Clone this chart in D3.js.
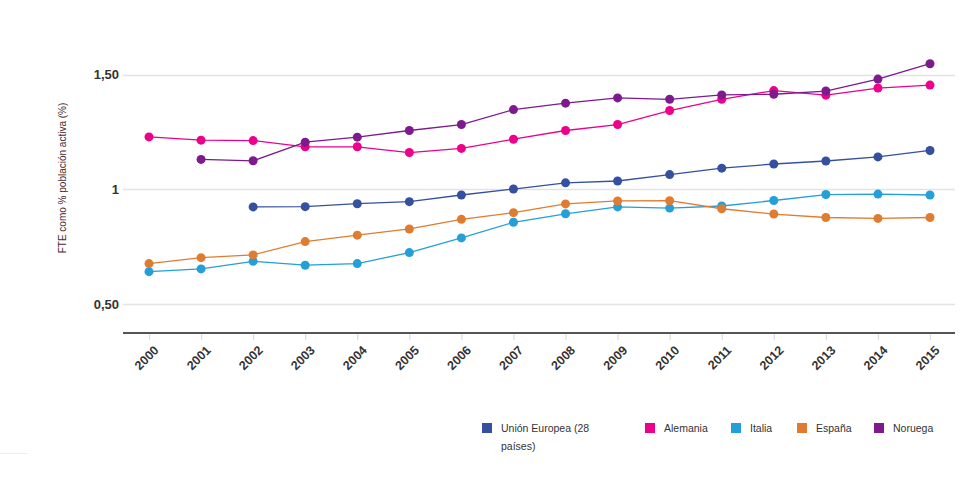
<!DOCTYPE html>
<html><head><meta charset="utf-8">
<script src="https://cdn.jsdelivr.net/npm/d3@7"></script>
<style>
body{margin:0;background:#fff;}
svg{display:block;font-family:"Liberation Sans",Arial,sans-serif;}
</style></head>
<body><svg id="c" width="979" height="489"></svg>
<script>
const years = [2000,2001,2002,2003,2004,2005,2006,2007,2008,2009,2010,2011,2012,2013,2014,2015];
const seriesNames = ["Unión Europea (28 países)","Alemania","Italia","España","Noruega"];
const seriesColors = ["#34509f","#ec008c","#249fd7","#e07c2f","#7d1a8e"];
const ue       = [null,null,0.923,0.924,0.937,0.946,0.975,1.001,1.028,1.036,1.064,1.092,1.110,1.123,1.141,1.169];
const alemania = [1.228,1.214,1.212,1.185,1.185,1.160,1.178,1.218,1.256,1.282,1.343,1.392,1.430,1.410,1.441,1.454];
const italia   = [0.641,0.653,0.686,0.669,0.676,0.724,0.788,0.856,0.893,0.923,0.918,0.927,0.951,0.977,0.979,0.975];
const espana   = [0.676,0.702,0.714,0.772,0.800,0.827,0.869,0.898,0.936,0.949,0.950,0.915,0.892,0.877,0.873,0.877];
const noruega  = [null,1.130,1.124,1.205,1.227,1.256,1.282,1.347,1.375,1.398,1.392,1.411,1.414,1.428,1.480,1.547];
const yTicks = [0.5,1,1.5];
const yTickLabels = ["0,50","1","1,50"];
const yTitle = "FTE como % población activa (%)";
const allSeries = [ue,alemania,italia,espana,noruega];

const svg = d3.select("#c");
const x = d3.scalePoint().domain(years).range([149,930]);
const y = d3.scaleLinear().domain([0.5,1.5]).range([304,74.5]);

// grid
svg.append("g").selectAll("line").data(yTicks).join("line")
  .attr("x1",123).attr("x2",955)
  .attr("y1",d=>Math.round(y(d))+0.5).attr("y2",d=>Math.round(y(d))+0.5)
  .attr("stroke","#e3e3e3").attr("stroke-width",1.3);
svg.append("g").selectAll("text").data(yTicks).join("text")
  .attr("x",119).attr("y",d=>y(d)+4.5).attr("text-anchor","end")
  .attr("font-size",13).attr("font-weight","bold").attr("fill","#333")
  .text((d,i)=>yTickLabels[i]);

// y title
svg.append("text").attr("transform","translate(66,178) rotate(-90)")
  .attr("text-anchor","middle").attr("font-size",10).attr("fill","#4a2a2a").text(yTitle);

// x axis
const xAxis = svg.append("g").attr("transform","translate(0,333)")
  .call(d3.axisBottom(x).tickSize(7).tickSizeOuter(0).tickPadding(6));
xAxis.select(".domain").remove();
xAxis.selectAll(".tick line").attr("stroke","#ddd").attr("stroke-width",1.3);
xAxis.selectAll("text").attr("font-size",12.5).attr("font-weight","bold").attr("fill","#333")
  .attr("font-family","Liberation Sans, Arial, sans-serif")
  .attr("text-anchor","end").attr("x",0).attr("y",0).attr("dy",0)
  .attr("transform","translate(10,18) rotate(-45)");
svg.append("line").attr("x1",123).attr("x2",955).attr("y1",333).attr("y2",333)
  .attr("stroke","#555").attr("stroke-width",2);

// lines and points
const line = d3.line().defined(d=>d.v!=null).x(d=>x(d.yr)).y(d=>y(d.v));
allSeries.forEach((s,i)=>{
  const pts = years.map((yr,j)=>({yr, v:s[j]}));
  svg.append("path").datum(pts).attr("d",line).attr("fill","none")
    .attr("stroke",seriesColors[i]).attr("stroke-width",1.3);
});
allSeries.forEach((s,i)=>{
  const pts = years.map((yr,j)=>({yr, v:s[j]})).filter(d=>d.v!=null);
  svg.append("g").selectAll("circle").data(pts).join("circle")
    .attr("cx",d=>x(d.yr)).attr("cy",d=>y(d.v)).attr("r",4.5)
    .attr("fill",seriesColors[i]);
});

// legend
const legX = [482,645,731,797,874];
const lg = svg.append("g");
seriesNames.forEach((n,i)=>{
  lg.append("rect").attr("x",legX[i]).attr("y",423).attr("width",10).attr("height",10).attr("fill",seriesColors[i]);
  const t = lg.append("text").attr("x",legX[i]+19).attr("y",431.5).attr("font-size",10.5).attr("fill","#333");
  if(i===0){
    t.append("tspan").attr("x",legX[i]+19).text("Unión Europea (28");
    t.append("tspan").attr("x",legX[i]+19).attr("dy",18.5).text("países)");
  } else t.text(n);
});
svg.append("line").attr("x1",0).attr("x2",28).attr("y1",453.5).attr("y2",453.5).attr("stroke","#eee");
</script></body></html>
